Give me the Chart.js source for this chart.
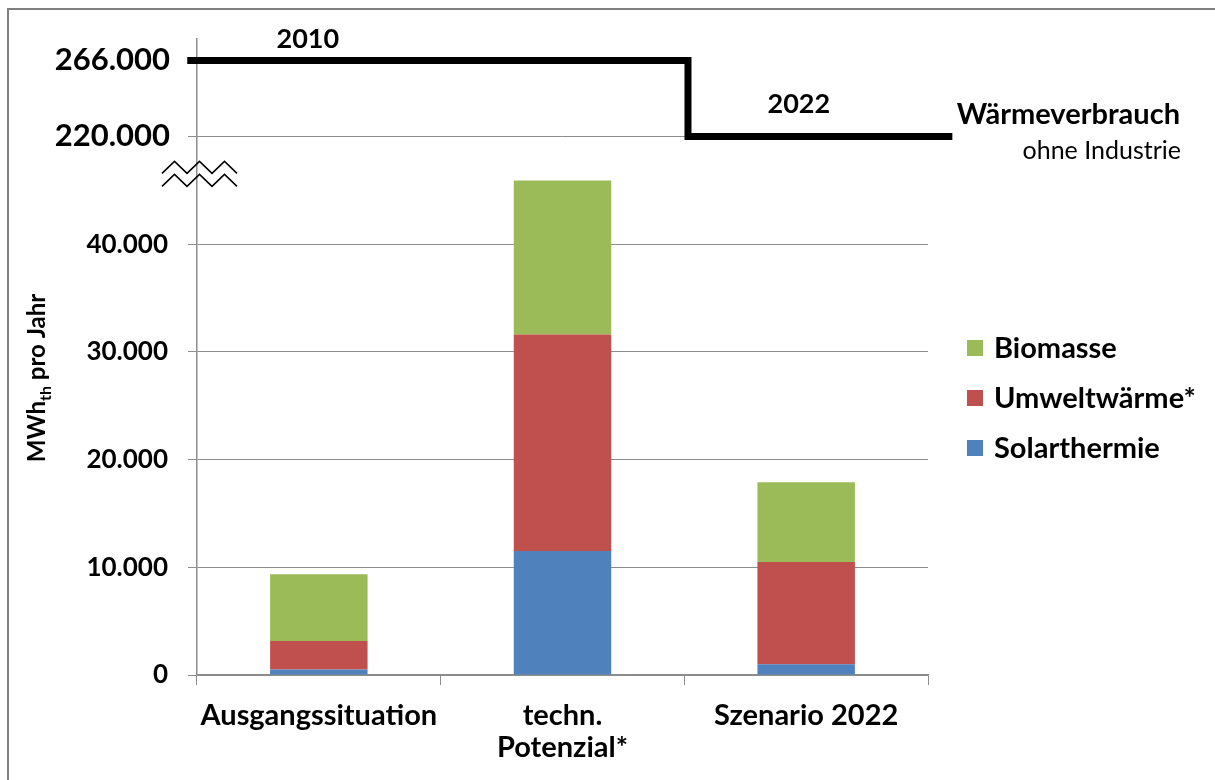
<!DOCTYPE html>
<html>
<head>
<meta charset="utf-8">
<script src="https://cdn.jsdelivr.net/npm/chart.js@4.4.1/dist/chart.umd.min.js"></script>
<style>
  html, body { margin: 0; padding: 0; background: #fff; }
  #wrap { width: 1215px; height: 780px; }
</style>
</head>
<body>
<div id="wrap"><canvas id="heatChart"></canvas></div>
<script>
// Erneuerbare Wärme, MWh_th pro Jahr
const categories = ['Ausgangssituation', ['techn.', 'Potenzial*'], 'Szenario 2022'];
const solarthermie = [500, 11500, 1000];
const umweltwaerme = [2650, 20100, 9500];
const biomasse = [6200, 14300, 7400];

// Wärmeverbrauch ohne Industrie (Stufenlinie oben)
const heatYears = ['2010', '2022'];
const heatDemand = [266000, 220000];
const heatStepX = [-0.04, 2.015, 3.1];   // in Kategorie-Einheiten

const lowerTicks = [0, 10000, 20000, 30000, 40000];

const FONT = 'Lato, "Liberation Sans", sans-serif';
const GRID = '#8c8c8c';

const fmt = v => v.toLocaleString('de-DE');

const heatLine = heatStepX.map((x, i) => ({ x: x, y: heatDemand[Math.min(i, heatDemand.length - 1)] }));

// Rahmen, Achsenbruch, Achsentitel, Legende und Beschriftungen der Verbrauchslinie
const decorations = {
    id: 'decorations',
    beforeDraw(chart) {
        const ctx = chart.ctx;
        ctx.save();
        ctx.strokeStyle = '#808080';
        ctx.lineWidth = 2;
        ctx.beginPath();
        ctx.moveTo(8, chart.height);
        ctx.lineTo(8, 9);
        ctx.lineTo(chart.width, 9);
        ctx.stroke();
        ctx.restore();
    },
    afterDraw(chart) {
        const ctx = chart.ctx;
        const y = chart.scales.y;
        const xl = chart.scales.xLine;
        const yt = chart.scales.yTop;
        const ax = chart.chartArea.left;

        // Achsenbruch
        ctx.save();
        ctx.strokeStyle = '#000';
        ctx.lineWidth = 1.5;
        const by = y.top + 25;
        [0, 13].forEach(off => {
            ctx.beginPath();
            for (let i = 0; i <= 6; i++) {
                const px = ax - 35 + i * 12.5;
                const py = by + off + (i % 2 === 0 ? 12 : 0);
                if (i === 0) ctx.moveTo(px, py); else ctx.lineTo(px, py);
            }
            ctx.stroke();
        });
        ctx.restore();

        // Jahreszahlen über der Linie
        ctx.save();
        ctx.fillStyle = '#000';
        ctx.font = 'bold 27px ' + FONT;
        ctx.textAlign = 'center';
        ctx.textBaseline = 'alphabetic';
        const labelX = [0.455, 2.47];
        const labelLift = [12, 23];
        heatYears.forEach((yr, i) => {
            ctx.fillText(yr, xl.getPixelForValue(labelX[i]), yt.getPixelForValue(heatDemand[i]) - labelLift[i]);
        });

        // Wärmeverbrauch / ohne Industrie
        ctx.textAlign = 'right';
        ctx.font = 'bold 29px ' + FONT;
        ctx.fillText('Wärmeverbrauch', 1180, 124);
        ctx.font = '25px ' + FONT;
        ctx.fillText('ohne Industrie', 1181, 159);
        ctx.restore();

        // Legende (oberste Schicht zuerst)
        ctx.save();
        ctx.font = 'bold 29px ' + FONT;
        ctx.textAlign = 'left';
        ctx.textBaseline = 'middle';
        const bars = chart.data.datasets.filter(d => d.type !== 'line').slice().reverse();
        bars.forEach((d, i) => {
            const cy = 348 + i * 50;
            ctx.fillStyle = d.backgroundColor;
            ctx.fillRect(967, cy - 8, 16, 16);
            ctx.fillStyle = '#000';
            ctx.fillText(d.label, 994, cy + 1);
        });
        ctx.restore();

        // Achsentitel mit Index
        ctx.save();
        ctx.translate(45, 378);
        ctx.rotate(-Math.PI / 2);
        ctx.fillStyle = '#000';
        ctx.textBaseline = 'alphabetic';
        const big = 'bold 24px ' + FONT;
        const small = 'bold 16px ' + FONT;
        const parts = [['MWh', big, 0], ['th', small, 6], [' pro Jahr', big, 0]];
        let w = 0;
        parts.forEach(p => { ctx.font = p[1]; w += ctx.measureText(p[0]).width; });
        let cx = -w / 2;
        parts.forEach(p => {
            ctx.font = p[1];
            ctx.fillText(p[0], cx, p[2]);
            cx += ctx.measureText(p[0]).width;
        });
        ctx.restore();
    }
};

const ctx = document.getElementById('heatChart').getContext('2d');

new Chart(ctx, {
    type: 'bar',
    data: {
        labels: categories,
        datasets: [
            {
                label: 'Solarthermie',
                data: solarthermie,
                backgroundColor: '#4F81BD',
                xAxisID: 'x',
                yAxisID: 'y'
            },
            {
                label: 'Umweltwärme*',
                data: umweltwaerme,
                backgroundColor: '#C0504D',
                xAxisID: 'x',
                yAxisID: 'y'
            },
            {
                label: 'Biomasse',
                data: biomasse,
                backgroundColor: '#9BBB59',
                xAxisID: 'x',
                yAxisID: 'y'
            },
            {
                type: 'line',
                label: 'Wärmeverbrauch',
                data: heatLine,
                xAxisID: 'xLine',
                yAxisID: 'yTop',
                stepped: true,
                borderColor: '#000',
                borderWidth: 7,
                borderCapStyle: 'butt',
                borderJoinStyle: 'miter',
                pointRadius: 0,
                fill: false,
                clip: false
            }
        ]
    },
    options: {
        responsive: true,
        maintainAspectRatio: false,
        animation: false,
        events: [],
        layout: {
            padding: { top: 39, right: 287, bottom: 0, left: 0 }
        },
        datasets: {
            bar: {
                grouped: false,
                categoryPercentage: 1,
                barPercentage: 0.4
            }
        },
        plugins: {
            tooltip: { enabled: false },
            legend: { display: false }
        },
        scales: {
            x: {
                type: 'category',
                offset: true,
                stacked: true,
                grid: {
                    offset: true,
                    drawOnChartArea: false,
                    tickLength: 10,
                    color: GRID
                },
                border: { color: GRID, width: 1.5 },
                ticks: {
                    color: '#000',
                    padding: 15,
                    maxRotation: 0,
                    font: { family: FONT, size: 29, weight: 'bold', lineHeight: 1.1 }
                },
                afterFit: s => { s.height = 105; }
            },
            xLine: {
                type: 'linear',
                display: false,
                offset: false,
                min: 0,
                max: 3
            },
            y: {
                type: 'linear',
                position: 'left',
                stack: 'left',
                stackWeight: 5.53,
                stacked: true,
                min: 0,
                max: 50000,
                afterBuildTicks: axis => { axis.ticks = lowerTicks.map(v => ({ value: v })); },
                grid: {
                    color: GRID,
                    tickLength: 9
                },
                border: { color: GRID, width: 1.5 },
                ticks: {
                    color: '#000',
                    padding: 20,
                    font: { family: FONT, size: 26, weight: 'bold' },
                    callback: v => fmt(v)
                },
                afterFit: s => { s.width = 197; }
            },
            yTop: {
                type: 'linear',
                position: 'left',
                stack: 'left',
                stackWeight: 1,
                min: 220000,
                max: 279000,
                afterBuildTicks: axis => { axis.ticks = heatDemand.map(v => ({ value: v })); },
                grid: {
                    color: c => (c.tick && c.tick.value === 220000 ? GRID : 'rgba(0,0,0,0)'),
                    tickColor: GRID,
                    tickLength: 9
                },
                border: { color: GRID, width: 1.5 },
                ticks: {
                    color: '#000',
                    padding: 18,
                    font: { family: FONT, size: 31, weight: 'bold' },
                    callback: v => fmt(v)
                },
                afterFit: s => { s.width = 197; }
            }
        }
    },
    plugins: [decorations]
});
</script>
</body>
</html>
